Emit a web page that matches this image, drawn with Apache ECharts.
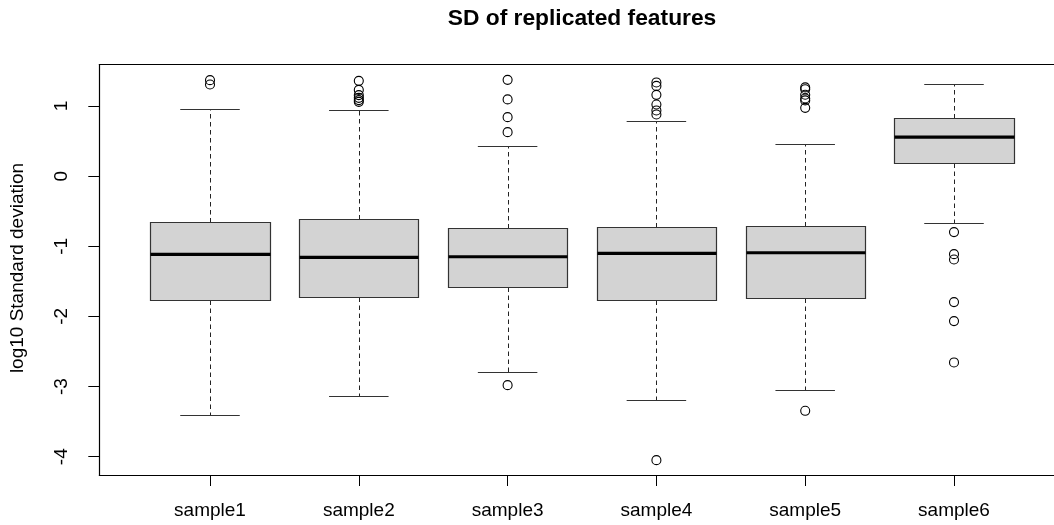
<!DOCTYPE html>
<html>
<head>
<meta charset="utf-8">
<script src="https://cdn.jsdelivr.net/npm/echarts@6/dist/echarts.min.js"></script>
<style>
  html, body { margin: 0; padding: 0; background: #fff; }
  #chart { width: 1054px; height: 525px; }
</style>
</head>
<body>
<div id="chart"></div>
<script>
// ---- data ----
const categories = ['sample1', 'sample2', 'sample3', 'sample4', 'sample5', 'sample6'];
const lowerWhisker = [-3.410, -3.131, -2.789, -3.196, -3.050, -0.669];
const q1           = [-1.762, -1.719, -1.577, -1.762, -1.734, 0.191];
const median       = [-1.115, -1.158, -1.149, -1.101, -1.092, 0.557];
const q3           = [-0.654, -0.607, -0.736, -0.721, -0.711, 0.833];
const upperWhisker = [0.952, 0.938, 0.429, 0.790, 0.458, 1.313];
const outliers = [
  [1.369, 1.307],
  [1.359, 1.230, 1.155, 1.116, 1.084, 1.059],
  [1.373, 1.094, 0.841, 0.627, -2.980],
  [1.336, 1.287, 1.159, 1.022, 0.937, 0.880, -4.049],
  [1.265, 1.240, 1.160, 1.108, 1.080, 0.974, -3.346],
  [-0.798, -1.112, -1.188, -1.796, -2.067, -2.656]
];
const yTicks = [-4, -3, -2, -1, 0, 1];
const xTicks = [1, 2, 3, 4, 5, 6];
const titleText = 'SD of replicated features';
const yAxisTitle = 'log10 Standard deviation';

// ---- build chart ----
const FONT = '"Liberation Sans", Arial, Helvetica, sans-serif';
const boxData = categories.map((c, i) => [i + 1, lowerWhisker[i], q1[i], median[i], q3[i], upperWhisker[i]]);
const outlierData = [];
outliers.forEach((arr, i) => arr.forEach(v => outlierData.push([i + 1, v])));

const chart = echarts.init(document.getElementById('chart'), null, { renderer: 'canvas' });

const crisp = v => Math.round(v) + 0.5;

function renderBox(params, api) {
  const x = api.value(0);
  const lo = api.value(1), b1 = api.value(2), md = api.value(3), b3 = api.value(4), hi = api.value(5);
  const half = 0.4, capHalf = 0.2;
  const xL = crisp(api.coord([x - half, md])[0]);
  const xR = crisp(api.coord([x + half, md])[0]);
  const cL = api.coord([x - capHalf, hi])[0];
  const cR = api.coord([x + capHalf, hi])[0];
  const cx = crisp(api.coord([x, 0])[0]);
  const yLo = crisp(api.coord([x, lo])[1]);
  const yB1 = crisp(api.coord([x, b1])[1]);
  const yMd = api.coord([x, md])[1];
  const yB3 = crisp(api.coord([x, b3])[1]);
  const yHi = crisp(api.coord([x, hi])[1]);
  const dashStyle = { stroke: '#222', lineWidth: 1, lineDash: [4.5, 3.5] };
  const solid = { stroke: '#333', lineWidth: 1 };
  return {
    type: 'group',
    children: [
      { type: 'line', shape: { x1: cx, y1: yB3, x2: cx, y2: yHi }, style: dashStyle },
      { type: 'line', shape: { x1: cx, y1: yB1, x2: cx, y2: yLo }, style: dashStyle },
      { type: 'line', shape: { x1: cL, y1: yHi, x2: cR, y2: yHi }, style: solid },
      { type: 'line', shape: { x1: cL, y1: yLo, x2: cR, y2: yLo }, style: solid },
      { type: 'rect', shape: { x: xL, y: yB3, width: xR - xL, height: yB1 - yB3 },
        style: { fill: '#d3d3d3', stroke: '#333', lineWidth: 1.2 } },
      { type: 'line', shape: { x1: xL, y1: yMd, x2: xR, y2: yMd },
        style: { stroke: '#000', lineWidth: 3.2 } }
    ]
  };
}

const axisLineStyle = { color: '#000', width: 1.2 };

const option = {
  animation: false,
  backgroundColor: '#fff',
  grid: {
    left: 99.3, top: 64.7, right: 0, bottom: 50,
    show: false, containLabel: false
  },
  xAxis: [
    {
      type: 'value', min: 0.256, max: 6.672, position: 'bottom',
      axisLine: { show: true, onZero: false, lineStyle: axisLineStyle },
      splitLine: { show: false },
      axisTick: { show: true, length: 11, customValues: xTicks, lineStyle: { color: '#000', width: 1 } },
      axisLabel: {
        customValues: xTicks, margin: 26, fontSize: 19, color: '#000', fontFamily: FONT,
        formatter: v => categories[Math.round(v) - 1] || ''
      }
    },
    {
      type: 'value', min: 0.256, max: 6.672, position: 'top',
      axisLine: { show: true, onZero: false, lineStyle: axisLineStyle },
      splitLine: { show: false },
      axisTick: { show: false },
      axisLabel: { show: false }
    }
  ],
  yAxis: {
    type: 'value', min: -4.261, max: 1.589,
    axisLine: { show: true, onZero: false, lineStyle: axisLineStyle },
    splitLine: { show: false },
    axisTick: { show: true, length: 11, customValues: yTicks, lineStyle: { color: '#000', width: 1 } },
    axisLabel: {
      customValues: yTicks, rotate: 90, margin: 28, fontSize: 19, color: '#000', fontFamily: FONT,
      formatter: v => String(v)
    }
  },
  graphic: [
    { type: 'text', x: 582, y: 18.6,
      style: { text: titleText, font: 'bold 22.8px ' + FONT, fill: '#000',
               textAlign: 'center', textVerticalAlign: 'middle', align: 'center', verticalAlign: 'middle' } },
    { type: 'text', x: 17.4, y: 268, rotation: Math.PI / 2,
      style: { text: yAxisTitle, font: '19px ' + FONT, fill: '#000',
               textAlign: 'center', textVerticalAlign: 'middle', align: 'center', verticalAlign: 'middle' } }
  ],
  series: [
    {
      type: 'custom', name: 'box', renderItem: renderBox,
      xAxisIndex: 0, yAxisIndex: 0,
      encode: { x: 0, y: [1, 2, 3, 4, 5] },
      data: boxData, silent: true, clip: false
    },
    {
      type: 'scatter', name: 'outliers', data: outlierData,
      xAxisIndex: 0, yAxisIndex: 0,
      symbol: 'circle', symbolSize: 9,
      itemStyle: { color: 'rgba(0,0,0,0)', borderColor: '#000', borderWidth: 1.1, opacity: 1 },
      silent: true, z: 5
    }
  ]
};
chart.setOption(option);
</script>
</body>
</html>
